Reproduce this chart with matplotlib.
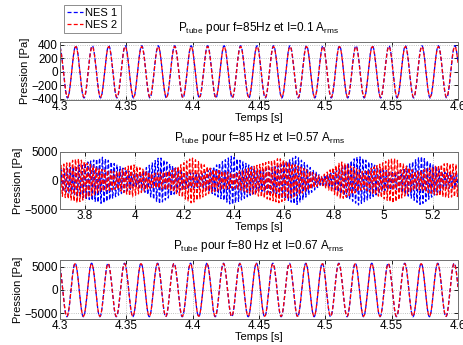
import numpy as np
import matplotlib
matplotlib.use("Agg")
import matplotlib.pyplot as plt

plt.rcParams['font.family'] = ['Liberation Sans', 'DejaVu Sans']
plt.rcParams['mathtext.fontset'] = 'custom'
plt.rcParams['mathtext.rm'] = 'Liberation Sans'
plt.rcParams['mathtext.it'] = 'Liberation Sans'
plt.rcParams['font.size'] = 7.5

# values
labels = ['NES 1', 'NES 2']
colors = ['#0000ff', '#ff0000']

# top plot: steady oscillation
top_xlim = [4.3, 4.6]
top_freq = [80.5, 80.5]           # Hz
top_amp = [385, 372]              # Pa
top_tpeak = [4.3119, 4.3119]      # time of a crest
top_ylim = [-415, 440]

# bottom plot: steady oscillation
bot_xlim = [4.3, 4.6]
bot_freq = [80.5, 80.5]
bot_amp = [5750, 5650]
bot_tpeak = [4.3114, 4.3114]
bot_ylim = [-6230, 6440]

# middle plot: modulated oscillation, envelope knots per series
mid_xlim = [3.7, 5.3]
mid_freq = [85.0, 85.0]
mid_phase = [0.0, 1.3]
t_env_b = [3.70, 3.76, 3.87, 3.96, 4.01, 4.10, 4.19, 4.27, 4.39, 4.50,
           4.58, 4.65, 4.75, 4.80, 4.90, 5.00, 5.06, 5.15, 5.24, 5.30]
a_env_b = [1800, 2500, 4100, 2000, 1000, 4100, 1500, 1200, 4300, 1800,
           2600, 4300, 700, 1500, 4300, 1800, 1500, 4300, 1500, 1200]
t_env_r = [3.70, 3.77, 3.86, 3.93, 3.99, 4.07, 4.15, 4.23, 4.31, 4.40,
           4.48, 4.58, 4.66, 4.75, 4.83, 4.92, 5.04, 5.13, 5.25, 5.30]
a_env_r = [2600, 3900, 2000, 1500, 2900, 1200, 1800, 4000, 2000, 1300,
           2500, 3900, 2500, 700, 3300, 1500, 4000, 1500, 3000, 2800]

titles = [r'P$_{\mathrm{tube}}$ pour f=85Hz et I=0.1 A$_{\mathrm{rms}}$',
          r'P$_{\mathrm{tube}}$ pour f=85 Hz et I=0.57 A$_{\mathrm{rms}}$',
          r'P$_{\mathrm{tube}}$ pour f=80 Hz et I=0.67 A$_{\mathrm{rms}}$']


def steady(xlim, f, a, tp):
    t = np.linspace(xlim[0], xlim[1], 3000)
    return t, a * np.cos(2 * np.pi * f * (t - tp))


def style(ax):
    ax.grid(True, linestyle=':', color='#b0b0b0', linewidth=0.6)
    ax.tick_params(direction='in', length=3, width=0.6, pad=1.5,
                   top=True, right=True, labelsize=8.5)
    ax.tick_params(axis='x', pad=1)
    for s in ax.spines.values():
        s.set_color('#707070')
        s.set_linewidth(0.7)
    ax.set_xlabel('Temps [s]', fontsize=8, labelpad=0)
    ax.set_ylabel('Pression [Pa]', fontsize=8, labelpad=1)


W, H = 463, 345
fig = plt.figure(figsize=(W / 100, H / 100), dpi=100)
L, R = 60 / W, 458 / W
ax1 = fig.add_axes([L, 1 - 100 / H, R - L, 58 / H])
ax2 = fig.add_axes([L, 1 - 209 / H, R - L, 57 / H])
ax3 = fig.add_axes([L, 1 - 319 / H, R - L, 59 / H])

dash = (3.2, 1.8)

lines = []
for i in range(2):
    t, y = steady(top_xlim, top_freq[i], top_amp[i], top_tpeak[i])
    ln, = ax1.plot(t, y, '--', color=colors[i], lw=0.9, dashes=dash,
                   label=labels[i])
    lines.append(ln)
ax1.set_xlim(top_xlim)
ax1.set_ylim(top_ylim)
ax1.set_xticks([4.3, 4.35, 4.4, 4.45, 4.5, 4.55, 4.6])
ax1.set_xticklabels(['4.3', '4.35', '4.4', '4.45', '4.5', '4.55', '4.6'])
ax1.set_yticks([-400, -200, 0, 200, 400])

tm = np.linspace(mid_xlim[0], mid_xlim[1], 16000)
envs = [(t_env_b, a_env_b), (t_env_r, a_env_r)]
for i in range(2):
    env = np.interp(tm, envs[i][0], envs[i][1])
    y = env * np.cos(2 * np.pi * mid_freq[i] * tm + mid_phase[i])
    ax2.plot(tm, y, '--', color=colors[i], lw=0.9, dashes=dash)
ax2.set_xlim(mid_xlim)
ax2.set_ylim(-5000, 5000)
ax2.set_xticks([3.8, 4.0, 4.2, 4.4, 4.6, 4.8, 5.0, 5.2])
ax2.set_xticklabels(['3.8', '4', '4.2', '4.4', '4.6', '4.8', '5', '5.2'])
ax2.set_yticks([-5000, 0, 5000])

for i in range(2):
    t, y = steady(bot_xlim, bot_freq[i], bot_amp[i], bot_tpeak[i])
    ax3.plot(t, y, '--', color=colors[i], lw=0.9, dashes=dash)
ax3.set_xlim(bot_xlim)
ax3.set_ylim(bot_ylim)
ax3.set_xticks([4.3, 4.35, 4.4, 4.45, 4.5, 4.55, 4.6])
ax3.set_xticklabels(['4.3', '4.35', '4.4', '4.45', '4.5', '4.55', '4.6'])
ax3.set_yticks([-5000, 0, 5000])

for ax, title in zip([ax1, ax2, ax3], titles):
    style(ax)
    ax.set_title(title, fontsize=8.5, pad=8)

leg = fig.legend(lines, labels, loc='upper left',
                 bbox_to_anchor=(64 / W, 1 - 5 / H), fontsize=8,
                 fancybox=False, handlelength=1.4, handletextpad=0.2,
                 borderpad=0.3, labelspacing=0.15, borderaxespad=0)
leg.get_frame().set_edgecolor('#707070')
leg.get_frame().set_linewidth(0.7)

fig.savefig('out.png', dpi=100)
